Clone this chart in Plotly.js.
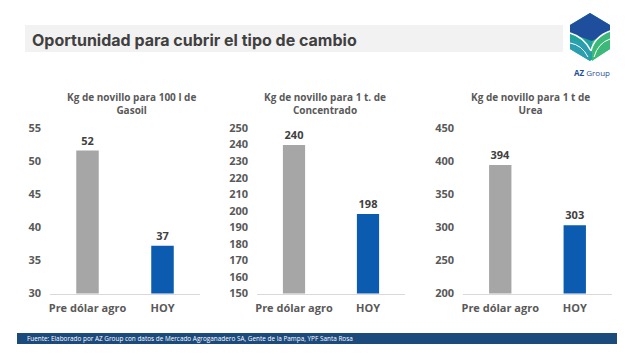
<!DOCTYPE html>
<html>
<head>
<meta charset="utf-8">
<script src="https://cdn.plot.ly/plotly-3.0.1.min.js"></script>
<style>html,body{margin:0;padding:0;background:#fff;}#chart{width:640px;height:354px;}</style>
</head>
<body>
<div id="chart"></div>
<script>
const categories = ["Pre dólar agro", "HOY"];
const gasoilValues = [51.6, 37.2];
const concentradoValues = [239.8, 198];
const ureaValues = [394, 303];
const chartTitles = ["Kg de novillo para 100 l de<br>Gasoil", "Kg de novillo para 1 t. de<br>Concentrado", "Kg de novillo para 1 t de<br>Urea"];
const gasoilTicks = [30, 35, 40, 45, 50, 55];
const concentradoTicks = [150, 160, 170, 180, 190, 200, 210, 220, 230, 240, 250];
const ureaTicks = [200, 250, 300, 350, 400, 450];
const mainTitle = "Oportunidad para cubrir el tipo de cambio";
const sourceText = "Fuente: Elaborado por AZ Group con datos de Mercado Agroganadero SA, Gente de la Pampa, YPF Santa Rosa";

const W = 640, H = 354;
const px = x => x / W;
const py = y => 1 - y / H;
const barColors = ["#a6a6a6", "#0b5bb0"];
const FONT = "Open Sans, sans-serif";
const tickColor = "#595959";

function barTrace(vals, i) {
  const s = i === 1 ? "" : String(i);
  return {
    type: "bar", x: categories, y: vals,
    xaxis: "x" + s, yaxis: "y" + s,
    marker: {color: barColors},
    text: vals.map(v => Math.round(v)),
    texttemplate: "%{text}",
    textposition: "outside",
    cliponaxis: false,
    textfont: {family: FONT, size: 11, color: "#404040", weight: 700},
    hoverinfo: "skip"
  };
}

function xAxis(x0, x1) {
  return {domain: [px(x0), px(x1)], showgrid: false, zeroline: false, showline: true,
    linecolor: "#d9d9d9", linewidth: 1, ticks: "", fixedrange: true, ticklabelstandoff: 4,
    tickfont: {family: FONT, size: 11, color: tickColor, weight: 700}};
}
function yAxis(range, ticks) {
  return {domain: [py(293.5), py(128)], range: range, tickvals: ticks, showgrid: false,
    zeroline: false, showline: false, ticks: "", ticklabelstandoff: 8, fixedrange: true,
    tickfont: {family: FONT, size: 11, color: tickColor, weight: 700}};
}

const data = [barTrace(gasoilValues, 1), barTrace(concentradoValues, 2), barTrace(ureaValues, 3)];

// logo geometry (pixels)
const cx = 590, cy = 37, rw = 20, rh = 24;
function path(pts) {
  return "M" + pts.map(p => px(p[0]).toFixed(5) + "," + py(p[1]).toFixed(5)).join(" L") + " Z";
}
const hex = [[cx, cy - rh], [cx + rw, cy - rh / 2], [cx + rw, cy + rh / 2], [cx, cy + rh], [cx - rw, cy + rh / 2], [cx - rw, cy - rh / 2]];
const topFace = [[cx, cy - rh], [cx + rw, cy - rh / 2], [cx + rw, cy - 6], [cx + 2, cy + 4], [cx - rw, cy - 4], [cx - rw, cy - rh / 2]];

const shapes = [
  {type: "rect", xref: "paper", yref: "paper", x0: px(25), x1: px(563), y0: py(52), y1: py(25), fillcolor: "#f2f2f2", line: {width: 0}, layer: "below"},
  {type: "rect", xref: "paper", yref: "paper", x0: px(17), x1: px(617), y0: py(344), y1: py(333), fillcolor: "#1b4a7d", line: {width: 0}},
  {type: "path", xref: "paper", yref: "paper", path: path(hex), fillcolor: "#1fa39b", line: {width: 0}},
  {type: "path", xref: "paper", yref: "paper", path: path([[cx - rw, cy + 2], [cx, cy + 8], [cx, cy + rh], [cx - rw, cy + rh / 2]]), fillcolor: "#2b9fb0", line: {width: 0}},
  {type: "path", xref: "paper", yref: "paper", path: path([[cx + 2, cy + 4], [cx + rw, cy - 6], [cx + rw, cy + rh / 2], [cx + 2, cy + rh]]), fillcolor: "#3cb878", line: {width: 0}},
  {type: "path", xref: "paper", yref: "paper", path: path(topFace), fillcolor: "#1f4f9c", line: {width: 0}},
  {type: "path", xref: "paper", yref: "paper", path: "M" + px(cx - rw) + "," + py(cy - 4) + " Q" + px(cx - 6) + "," + py(cy) + " " + px(cx + 1) + "," + py(cy + 14), line: {color: "#ffffff", width: 1.5}},
  {type: "path", xref: "paper", yref: "paper", path: "M" + px(cx + rw) + "," + py(cy - 6) + " Q" + px(cx + 4) + "," + py(cy) + " " + px(cx + 1) + "," + py(cy + 14), line: {color: "#ffffff", width: 1.5}},
  {type: "path", xref: "paper", yref: "paper", path: "M" + px(cx - rw) + "," + py(cy + 6) + " Q" + px(cx - 8) + "," + py(cy + 8) + " " + px(cx - 2) + "," + py(cy + 20), line: {color: "#ffffff", width: 1}},
  {type: "path", xref: "paper", yref: "paper", path: "M" + px(cx + rw) + "," + py(cy + 2) + " Q" + px(cx + 8) + "," + py(cy + 6) + " " + px(cx + 4) + "," + py(cy + 20), line: {color: "#ffffff", width: 1}}
];

const annotations = [
  {text: mainTitle, xref: "paper", yref: "paper", x: px(30), y: py(39.5), xanchor: "left", yanchor: "middle", showarrow: false,
    font: {family: "Inter, Open Sans, sans-serif", size: 16, color: "#404040", weight: 700}},
  {text: sourceText, xref: "paper", yref: "paper", x: px(25), y: py(338.5), xanchor: "left", yanchor: "middle", showarrow: false,
    font: {family: "Open Sans, sans-serif", size: 6.4, color: "#ffffff"}},
  {text: "<b>AZ</b> Group", xref: "paper", yref: "paper", x: px(592), y: py(72), xanchor: "center", yanchor: "middle", showarrow: false,
    font: {family: "Open Sans, sans-serif", size: 8, color: "#1f4f9c"}}
];
const titleCenters = [131, 325, 530];
chartTitles.forEach((t, i) => annotations.push({
  text: t, xref: "paper", yref: "paper", x: px(titleCenters[i]), y: py(103), xanchor: "center", yanchor: "middle",
  showarrow: false, align: "center", font: {family: FONT, size: 10, color: "#595959", weight: 700}
}));

const layout = {
  width: W, height: H, margin: {l: 0, r: 0, t: 0, b: 0},
  paper_bgcolor: "#ffffff", plot_bgcolor: "rgba(0,0,0,0)",
  showlegend: false, bargap: 0.7,
  xaxis: xAxis(50, 200), yaxis: yAxis([30, 55], gasoilTicks),
  xaxis2: xAxis(257, 405), yaxis2: yAxis([150, 250], concentradoTicks),
  xaxis3: xAxis(463, 612), yaxis3: yAxis([200, 450], ureaTicks),
  shapes: shapes, annotations: annotations
};
["yaxis", "yaxis2", "yaxis3"].forEach((k, i) => { layout[k].anchor = "x" + (i === 0 ? "" : i + 1); });
["xaxis", "xaxis2", "xaxis3"].forEach((k, i) => { layout[k].anchor = "y" + (i === 0 ? "" : i + 1); });

Plotly.newPlot("chart", data, layout, {displayModeBar: false, staticPlot: true});
</script>
</body>
</html>
